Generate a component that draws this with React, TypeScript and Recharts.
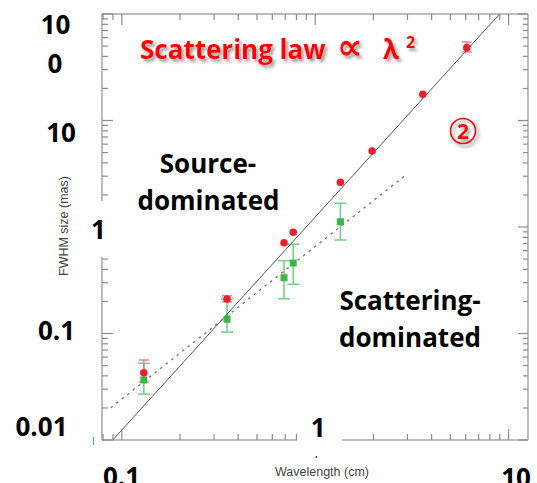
import React from "react";
import { ComposedChart, Scatter, XAxis, YAxis, ErrorBar } from "recharts";

// wavelength of each VLBI observation (cm)
const wavelength = [0.13, 0.35, 0.69, 0.77, 1.35, 1.97, 3.6, 6.08];
// observed (scatter-broadened) size, mas
const observedSize = [0.0428, 0.211, 0.712, 0.892, 2.63, 5.17, 17.6, 48.3];
const observedLow = [0.035, 0.198, null, null, null, null, null, 44];
const observedHigh = [0.0564, 0.226, null, null, null, null, null, 54.6];

// intrinsic size after removing scattering, mas
const intrinsicWavelength = [0.13, 0.35, 0.69, 0.77, 1.35];
const intrinsicSize = [0.0366, 0.136, 0.334, 0.459, 1.12];
const intrinsicLow = [0.027, 0.103, 0.212, 0.29, 0.755];
const intrinsicHigh = [0.0525, 0.21, 0.483, 0.689, 1.67];

// fitted lines (end points)
const scatterLawX = [0.0898, 8.98];
const scatterLawY = [0.01, 100];
const intrinsicFitX = [0.0877, 2.99];
const intrinsicFitY = [0.0201, 3.15];

// axis ticks
const xMinor = [0.08, 0.09, 0.2, 0.3, 0.4, 0.5, 0.6, 0.7, 0.8, 0.9, 2, 3, 4, 5, 6, 7, 8, 9];
const xMajor = [0.1, 1, 10];
const yMinor = [
  0.02, 0.03, 0.04, 0.05, 0.06, 0.07, 0.08, 0.09, 0.2, 0.3, 0.4, 0.5, 0.6, 0.7, 0.8, 0.9,
  2, 3, 4, 5, 6, 7, 8, 9, 20, 30, 40, 50, 60, 70, 80, 90,
];
const yMajor = [0.01, 0.1, 1, 10, 100];

const W = 537;
const H = 483;
const M = { top: 14, right: 9, bottom: 43, left: 102 };
const FRAME = "#a6a6a6";
const TICK = "#8c8c8c";
const BOLD = "'Open Sans', 'DejaVu Sans', sans-serif";
const PLAIN = "'Liberation Sans', Arial, sans-serif";

const xDomain: [number, number] = [0.079, 12.6];
const yDomain: [number, number] = [0.01, 100];

const observed = wavelength.map((x, i) => ({
  x,
  y: observedSize[i],
  err:
    observedLow[i] == null
      ? null
      : [observedSize[i] - (observedLow[i] as number), (observedHigh[i] as number) - observedSize[i]],
}));
const intrinsic = intrinsicWavelength.map((x, i) => ({
  x,
  y: intrinsicSize[i],
  err: [intrinsicSize[i] - intrinsicLow[i], intrinsicHigh[i] - intrinsicSize[i]],
}));
const scatterLaw = scatterLawX.map((x, i) => ({ x, y: scatterLawY[i] }));
const intrinsicFit = intrinsicFitX.map((x, i) => ({ x, y: intrinsicFitY[i] }));

// plot box, used for the inward tick marks
const left = M.left;
const top = M.top;
const right = W - M.right;
const bottom = H - M.bottom;
const lg = Math.log10;
const px = (v: number) =>
  left + ((lg(v) - lg(xDomain[0])) / (lg(xDomain[1]) - lg(xDomain[0]))) * (right - left);
const py = (v: number) =>
  bottom - ((lg(v) - lg(yDomain[0])) / (lg(yDomain[1]) - lg(yDomain[0]))) * (bottom - top);

const RedDot = (p: any) => <circle cx={p.cx} cy={p.cy} r={3.8} fill="#e8202c" />;
const GreenSquare = (p: any) => (
  <rect x={p.cx - 3.5} y={p.cy - 3.5} width={7} height={7} fill="#3cb54a" />
);
const NoDot = () => <g />;
const NoLabel = () => <g />;
const frameLine = { stroke: FRAME, strokeWidth: 1.5 };

function Ticks() {
  const xs = [...xMinor.map((v) => [v, 6]), ...xMajor.map((v) => [v, 11])];
  const ys = [...yMinor.map((v) => [v, 6]), ...yMajor.map((v) => [v, 11])];
  return (
    <g stroke={TICK} strokeWidth={1.2}>
      {xs.map(([v, len]) => (
        <g key={`x${v}`}>
          <line x1={px(v)} x2={px(v)} y1={bottom} y2={bottom - len} />
          <line x1={px(v)} x2={px(v)} y1={top} y2={top + len} />
        </g>
      ))}
      {ys.map(([v, len]) => (
        <g key={`y${v}`}>
          <line x1={left} x2={left + len} y1={py(v)} y2={py(v)} />
          <line x1={right} x2={right - len + 1} y1={py(v)} y2={py(v)} />
        </g>
      ))}
    </g>
  );
}

export default function App() {
  return (
    <div style={{ position: "absolute", left: 0, top: 0, width: W, height: H, background: "#fff" }}>
      <ComposedChart width={W} height={H} margin={M}>
        <XAxis xAxisId={0} orientation="bottom" mirror dataKey="x" type="number" scale="log"
          domain={xDomain} allowDataOverflow ticks={xMajor} interval={0}
          tick={NoLabel} tickLine={false} axisLine={frameLine} />
        <XAxis xAxisId="t" orientation="top" mirror dataKey="x" type="number" scale="log"
          domain={xDomain} allowDataOverflow ticks={xMajor} interval={0}
          tick={NoLabel} tickLine={false} axisLine={frameLine} />
        <YAxis yAxisId={0} orientation="left" mirror width={1} dataKey="y" type="number" scale="log"
          domain={yDomain} allowDataOverflow ticks={yMajor} interval={0}
          tick={NoLabel} tickLine={false} axisLine={frameLine} />
        <YAxis yAxisId="r" orientation="right" mirror width={1} dataKey="y" type="number" scale="log"
          domain={yDomain} allowDataOverflow ticks={yMajor} interval={0}
          tick={NoLabel} tickLine={false} axisLine={frameLine} />

        <Scatter
          data={intrinsicFit}
          line={{ stroke: "#707070", strokeWidth: 1.3, strokeDasharray: "2.5 4.5" }}
          shape={NoDot}
          isAnimationActive={false}
        />
        <Scatter
          data={scatterLaw}
          line={{ stroke: "#555", strokeWidth: 1 }}
          shape={NoDot}
          isAnimationActive={false}
        />
        <Scatter data={intrinsic} shape={GreenSquare} isAnimationActive={false}>
          <ErrorBar dataKey="err" direction="y" width={6} stroke="#74d18b" strokeWidth={1.6} />
        </Scatter>
        <Scatter data={observed} shape={RedDot} isAnimationActive={false}>
          <ErrorBar dataKey="err" direction="y" width={5} stroke="#f07a7a" strokeWidth={1.4} />
        </Scatter>
      </ComposedChart>

      <svg
        width={W}
        height={H}
        style={{ position: "absolute", left: 0, top: 0, pointerEvents: "none" }}
      >
        <defs>
          <filter id="shadow" x="-10%" y="-30%" width="120%" height="160%">
            <feDropShadow dx="2.5" dy="3" stdDeviation="1.6" floodColor="#777" floodOpacity="0.7" />
          </filter>
        </defs>

        <Ticks />

        {/* white patches behind the overlaid "1" labels */}
        <rect x={86} y={201} width={28} height={56} fill="#fff" />
        <rect x={297} y={404} width={45} height={42} fill="#fff" />
        <line x1={93.5} y1={437} x2={93.5} y2={445} stroke="#5b9bd5" strokeWidth={1.2} />
        <rect x={315.5} y={456} width={1.5} height={2} fill="#555" />

        <text x={322} y={476} fontFamily={PLAIN} fontSize={12.5} fill="#444" textAnchor="middle">
          Wavelength (cm)
        </text>
        <text
          x={0}
          y={0}
          transform="translate(68 226) rotate(-90)"
          fontFamily={PLAIN}
          fontSize={12.5}
          fill="#444"
          textAnchor="middle"
        >
          FWHM size (mas)
        </text>

        <g fontFamily={BOLD} fontWeight={700} fontSize={26} fill="#000" textAnchor="middle">
          <text x={55.5} y={34}>10</text>
          <text x={55} y={73}>0</text>
          <text x={61} y={142}>10</text>
          <text x={98.5} y={239}>1</text>
          <text x={56.5} y={340}>0.1</text>
          <text x={41.5} y={436}>0.01</text>
          <text x={121.5} y={486}>0.1</text>
          <text x={318.3} y={437}>1</text>
          <text x={516} y={487}>10</text>

          <text x={208} y={173}>Source-</text>
          <text x={208.5} y={210}>dominated</text>
          <text x={410} y={310}>Scattering-</text>
          <text x={410} y={347}>dominated</text>
        </g>

        <g filter="url(#shadow)" fontFamily={BOLD} fontWeight={700} fill="#ff0000">
          <text y={59} fontSize={26}>
            <tspan x={140}>Scattering law</tspan>
            <tspan x={337} fontFamily="'DejaVu Sans', sans-serif" fontSize={36}>∝</tspan>
            <tspan x={383} fontSize={26}>λ</tspan>
            <tspan x={406} dy={-11} fontSize={16}>2</tspan>
          </text>
          <circle cx={463} cy={131} r={12.5} fill="none" stroke="#ff0000" strokeWidth={1.6} />
          <text x={463} y={139} fontSize={21} textAnchor="middle">2</text>
        </g>
      </svg>
    </div>
  );
}
